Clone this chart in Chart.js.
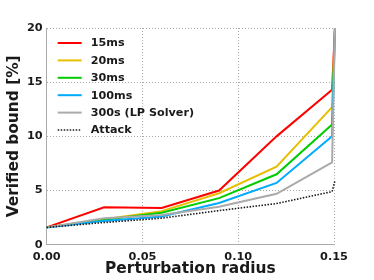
<!DOCTYPE html>
<html>
<head>
<meta charset="utf-8">
<script src="https://cdn.jsdelivr.net/npm/chart.js@4"></script>
<style>
  html, body { margin: 0; padding: 0; background: #fff; }
  #wrap { width: 374px; height: 280px; }
</style>
</head>
<body>
<div id="wrap"><canvas id="bound-chart"></canvas></div>
<script>
// --Verified bound chart-- //

const radius = [0, 0.03, 0.06, 0.09, 0.12, 0.149, 0.1505];

const bound15ms = [1.6, 3.45, 3.4, 5.0, 10.0, 14.3, 20];
const bound20ms = [1.6, 2.35, 3.1, 4.75, 7.2, 12.7, 20];
const bound30ms = [1.6, 2.3, 2.95, 4.3, 6.5, 11.1, 20];
const bound100ms = [1.6, 2.2, 2.6, 3.85, 5.7, 10.0, 20];
const bound300s = [1.6, 2.45, 2.75, 3.5, 4.7, 7.6, 20];
const attack = [1.6, 2.05, 2.45, 3.15, 3.8, 4.9, 5.9];

const xTicks = [0, 0.05, 0.10, 0.15];
const yTicks = [0, 5, 10, 15, 20];

const FONT = 'DejaVu Sans';

const toPoints = (ys) => ys.map((y, i) => ({ x: radius[i], y: y }));

const makeSet = (label, ys, color, order, dash) => ({
  label: label,
  data: toPoints(ys),
  borderColor: color,
  backgroundColor: color,
  borderWidth: dash ? 1.6 : 2,
  borderDash: dash || [],
  pointRadius: 0,
  tension: 0,
  fill: false,
  clip: false,
  order: order
});

const boundData = {
  datasets: [
    makeSet('15ms', bound15ms, '#ff0000', 6),
    makeSet('20ms', bound20ms, '#e6bf00', 5),
    makeSet('30ms', bound30ms, '#00cc00', 4),
    makeSet('100ms', bound100ms, '#00aaff', 3),
    makeSet('300s (LP Solver)', bound300s, '#aaaaaa', 2),
    makeSet('Attack', attack, '#1a1a1a', 1, [1.5, 1.5])
  ]
};

// legend sits inside the plot, top left, no frame
const insideLegend = {
  id: 'insideLegend',
  afterDatasetsDraw(chart) {
    const ctx = chart.ctx;
    const left = chart.chartArea.left + 11;
    const top = chart.chartArea.top + 15;
    ctx.save();
    ctx.font = 'bold 11.2px "' + FONT + '"';
    ctx.textBaseline = 'middle';
    ctx.textAlign = 'left';
    chart.data.datasets.forEach((ds, i) => {
      const y = top + i * 17.4;
      ctx.beginPath();
      ctx.strokeStyle = ds.borderColor;
      ctx.lineWidth = ds.borderWidth;
      ctx.setLineDash(ds.borderDash);
      ctx.moveTo(left, y);
      ctx.lineTo(left + 24, y);
      ctx.stroke();
      ctx.setLineDash([]);
      ctx.fillStyle = '#1a1a1a';
      ctx.fillText(ds.label, left + 33, y + 0.5);
    });
    ctx.restore();
  }
};

const gridStyle = {
  color: '#aaaaaa',
  lineWidth: 1,
  drawTicks: false
};

const tickFont = { family: FONT, weight: 'bold', size: 11.3, lineHeight: 1 };
const titleFont = { family: FONT, weight: 'bold', size: 15.4 };

const boundOptions = {
  responsive: true,
  maintainAspectRatio: false,
  animation: { duration: 0 },
  layout: { padding: { left: 4.5, right: 40, top: 28, bottom: 1.5 } },
  scales: {
    x: {
      type: 'linear',
      min: 0,
      max: 0.15,
      afterBuildTicks: (axis) => { axis.ticks = xTicks.map(v => ({ value: v })); },
      grid: gridStyle,
      border: { display: true, dash: [1, 2], color: '#aaaaaa' },
      ticks: {
        color: '#1a1a1a',
        padding: 6.5,
        maxRotation: 0,
        font: tickFont,
        callback: (v) => v.toFixed(2)
      },
      title: {
        display: true,
        text: 'Perturbation radius',
        color: '#1a1a1a',
        padding: { top: -9, bottom: 0 },
        font: titleFont
      }
    },
    y: {
      min: 0,
      max: 20,
      afterBuildTicks: (axis) => { axis.ticks = yTicks.map(v => ({ value: v })); },
      grid: gridStyle,
      border: { display: true, dash: [1, 2], color: '#aaaaaa' },
      ticks: {
        color: '#1a1a1a',
        padding: 4,
        font: tickFont
      },
      title: {
        display: true,
        text: 'Verified bound [%]',
        color: '#1a1a1a',
        padding: { top: 0, bottom: 0 },
        font: titleFont
      }
    }
  },
  plugins: {
    tooltip: { enabled: false },
    legend: { display: false }
  }
};

const boundChart = new Chart(document.getElementById('bound-chart'), {
  type: 'line',
  data: boundData,
  options: boundOptions,
  plugins: [insideLegend]
});
</script>
</body>
</html>
